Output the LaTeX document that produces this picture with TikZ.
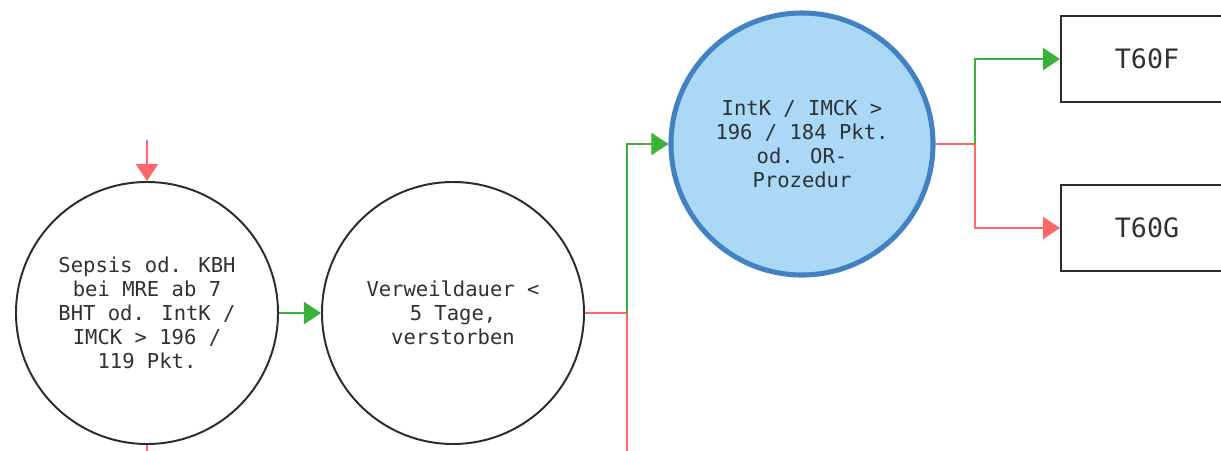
\documentclass[tikz,border=0pt]{standalone}
\usepackage{fontspec}
\setmainfont{DejaVu Sans Mono}
\usepackage{xcolor}
\usepackage{tikz}
\usetikzlibrary{arrows.meta, positioning, calc}
\definecolor{flowtext}{RGB}{45,50,55}
\definecolor{flowline}{RGB}{40,45,50}
\definecolor{flowyes}{RGB}{58,178,58}
\definecolor{flowno}{RGB}{255,102,102}
\definecolor{flowblue}{RGB}{66,130,196}
\definecolor{flowlight}{RGB}{171,216,247}

\begin{document}
\begin{tikzpicture}[
  x=0.25mm, y=-0.25mm,
  every node/.style={font=\fontsize{14.6}{17}\selectfont, text=flowtext},
  cond/.style={circle, draw=flowline, line width=1.4pt, fill=white,
               minimum size=65.5mm, inner sep=0pt, align=center},
  active/.style={cond, draw=flowblue, fill=flowlight, line width=3.6pt,
                 minimum size=65.5mm},
  result/.style={rectangle, draw=flowline, line width=1.4pt,
                 minimum width=43mm, minimum height=21.6mm, align=center,
                 font=\fontsize{19}{22}\selectfont},
  yes/.style={-{Triangle[length=4.3mm, width=5.5mm]}, line width=2pt, color=flowyes},
  no/.style={-{Triangle[length=4.3mm, width=5.5mm]}, line width=2pt, color=flowno},
  noline/.style={line width=2pt, color=flowno},
]
\useasboundingbox (0,0) rectangle (1221,451);

\node[cond]   (sepsis)  at (147,313) {Sepsis od. KBH\\bei MRE ab 7\\BHT od. IntK /\\IMCK > 196 /\\119 Pkt.};
\node[cond]   (verweil) at (453,313) {Verweildauer <\\5 Tage,\\verstorben};
\node[active] (intk)    at (802,144) {IntK / IMCK >\\196 / 184 Pkt.\\od. OR-\\Prozedur};
\node[result] (t60f)    at (1147,59)  {T60F};
\node[result] (t60g)    at (1147,228) {T60G};

% free ends and branch points
\coordinate (entry)  at (147,140);
\coordinate (exit1)  at (147,460);
\coordinate (split1) at (627,313);
\coordinate (exit2)  at (627,460);
\coordinate (split2) at (975,144);

\draw[no]     (entry) -- (sepsis);
\draw[noline] (sepsis) -- (exit1);
\draw[yes]    (sepsis) -- (verweil);
\draw[noline] (verweil) -- (split1) -- (exit2);
\draw[yes]    (split1) |- (intk);
\draw[noline] (intk) -- (split2);
\draw[yes]    (split2) |- (t60f);
\draw[no]     (split2) |- (t60g);

\end{tikzpicture}
\end{document}
